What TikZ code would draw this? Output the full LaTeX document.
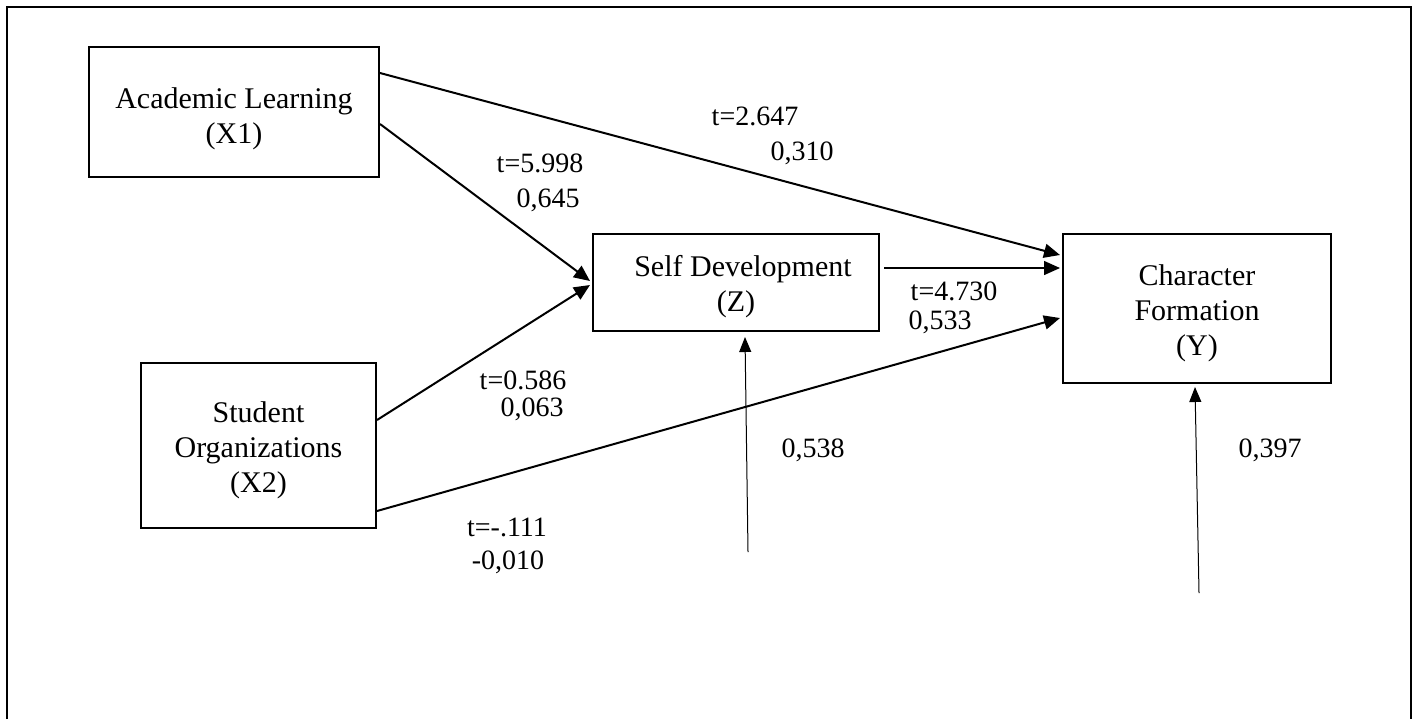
\documentclass[tikz,border=0pt]{standalone}
\usepackage{fontspec}
\setmainfont{Liberation Serif}
\usepackage{tikz}
\usetikzlibrary{arrows.meta}
\newcommand{\boxtop}[1]{\rule{0pt}{#1}}
\tikzstyle{var}=[shape=rectangle,draw,line width=1pt,align=center,font=\fontsize{15}{17.5}\selectfont]
\tikzstyle{to}=[-{Triangle[length=8pt,width=7pt]},line width=1pt]
\tikzstyle{mid}=[-{Triangle[length=8pt,width=7pt]},line width=0.7pt]
\tikzstyle{err}=[-{Triangle[length=7.5pt,width=6pt]},line width=0.5pt]
\tikzstyle{val}=[font=\fontsize{14}{16}\selectfont,inner sep=0pt]

\begin{document}
\begin{tikzpicture}[x=0.5pt,y=-0.5pt]
            \useasboundingbox (0,0) rectangle (1416,719);
            \draw[line width=1.2pt] (7,719) -- (7,7) -- (1411,7) -- (1411,719);
            \node[var,minimum width=145pt,minimum height=65pt] (X1) at (234,112)
                {\boxtop{17pt}Academic Learning\\(X1)}
            ;
            \node[var,minimum width=117.5pt,minimum height=82.5pt] (X2) at (258.5,445.5)
                {\boxtop{15pt}Student\\Organizations\\(X2)}
            ;
            \node[var,minimum width=143pt,minimum height=48.5pt] (Z) at (736,282.5)
                {\boxtop{15pt}\hspace{7pt}Self Development\\(Z)}
            ;
            \node[var,minimum width=134pt,minimum height=74.5pt] (Y) at (1197,308.5)
                {\boxtop{15.5pt}Character\\Formation\\(Y)}
            ;
            \coordinate (eZ) at (748,552);
            \coordinate (eY) at (1199,593);
            \draw[to] ([yshift=19.5pt]X1.east) -- ([yshift=26.75pt,xshift=-1pt]Y.west);
            \draw[to] ([yshift=-6pt]X1.east) -- ([yshift=0.75pt,xshift=-1pt]Z.west);
            \draw[to] ([yshift=12.75pt]X2.east) -- ([yshift=-1.25pt,xshift=-1pt]Z.west);
            \draw[to] ([yshift=-32.75pt]X2.east) -- ([yshift=-4.75pt,xshift=-1pt]Y.west);
            \draw[mid] ([yshift=7.25pt,xshift=2pt]Z.east) -- ([yshift=20.25pt,xshift=-1pt]Y.west);
            \draw[err] (eZ) -- ([xshift=4.5pt,yshift=-2.5pt]Z.south);
            \draw[err] (eY) -- ([xshift=-1pt,yshift=-1.5pt]Y.south);
            \node[val] (t1) at (755,116) {t=2.647};
            \node[val] (b1) at (802,153) {0,310};
            \node[val] (t2) at (540,163) {t=5.998};
            \node[val] (b2) at (548,200) {0,645};
            \node[val] (t3) at (954,291) {t=4.730};
            \node[val] (b3) at (940,322) {0,533};
            \node[val] (t4) at (523,380) {t=0.586};
            \node[val] (b4) at (532,409) {0,063};
            \node[val] (t5) at (507,527) {t=-.111};
            \node[val] (b5) at (508,562) {-0,010};
            \node[val] (rZ) at (813,450) {0,538};
            \node[val] (rY) at (1270,450) {0,397};
        \end{tikzpicture}
\end{document}
